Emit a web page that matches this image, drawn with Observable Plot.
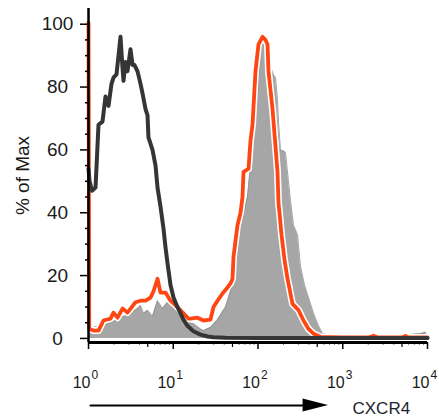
<!DOCTYPE html>
<html>
<head>
<meta charset="utf-8">
<script src="https://cdn.jsdelivr.net/npm/d3@7"></script>
<script src="https://cdn.jsdelivr.net/npm/@observablehq/plot@0.6"></script>
<style>
  html, body { margin: 0; padding: 0; background: #fff; }
</style>
</head>
<body>
<div id="chart"></div>
<script>
// Isotype control (dark line): fluorescence intensity, % of max
const isoX = [1.0, 1.03, 1.1, 1.21, 1.312, 1.463, 1.587, 1.722, 1.867, 1.972, 2.14, 2.26, 2.386, 2.52, 2.59, 2.733, 2.885, 3.13, 3.31, 3.49, 3.79, 4.11, 4.34, 4.71, 4.97, 5.10, 5.39, 5.69, 6.18, 6.52, 7.07, 7.67, 8.10, 8.55, 9.28, 10.07, 11.2, 12.18, 13.2, 14.7, 17.3, 20.97, 25.4, 29.85, 41.4, 100, 1000, 10000];
const isoY = [54, 50, 47, 48, 68, 69, 77, 74, 81, 83, 84, 90, 96, 86, 82, 88, 85, 92, 87, 87, 85, 81, 78, 73, 71, 64, 62, 60, 55, 48, 42, 35, 29, 24, 17, 13, 10, 8, 6, 4, 2.3, 1.2, 0.6, 0.4, 0.2, 0.1, 0.1, 0.1];

// CXCR4 stained (grey filled histogram)
const grayX = [1.0, 1.027, 1.146, 1.386, 1.818, 2.386, 3.13, 3.79, 4.11, 4.46, 4.97, 5.69, 6.52, 7.47, 8.55, 10.07, 12.18, 14.7, 17.3, 20.97, 22.75, 27.5, 33.3, 41.4, 47.4, 51.4, 57.3, 62.2, 69.3, 75.2, 81.6, 88.5, 98.6, 107, 116.1, 126, 136.7, 148.4, 160.9, 169.9, 174.6, 184.3, 205.5, 211.2, 229, 241.8, 262.4, 292.6, 317.3, 354, 383.9, 451.9, 517.6, 576.8, 717, 4799, 8265, 9467, 10000];
const grayY = [0, 3, 3.5, 4, 5, 6.5, 8, 9.5, 10.5, 8, 9, 7, 12, 9.5, 11.5, 10.5, 6.5, 5, 4.7, 3, 2.5, 3.5, 6, 10, 15, 18, 28, 35, 41, 45, 55, 64, 76, 91, 96, 95, 88, 84.5, 83, 76, 69, 60, 59.5, 59, 50, 44, 36, 33, 23, 17, 14, 8, 4, 1.5, 1, 1, 1.5, 2, 0];

// Second sample (orange line)
const redX = [1.0, 1.02, 1.146, 1.312, 1.503, 1.818, 1.972, 2.20, 2.52, 2.885, 3.586, 4.11, 4.71, 5.39, 5.85, 6.52, 7.07, 8.10, 9.28, 11.2, 13.2, 15.1, 15.98, 19.3, 22.75, 27.5, 29.85, 33.3, 38.1, 43.6, 47.4, 50.0, 51.4, 57.3, 62.2, 65.6, 67.5, 77.3, 81.6, 86.1, 93.4, 101.4, 113, 122.6, 129.5, 133, 148.4, 152.5, 169.9, 174.6, 179.4, 189.4, 205.5, 222.9, 255.4, 300.6, 344.4, 394.5, 451.9, 546, 1000, 2000, 2307, 2600, 5000, 5500, 6000, 10000];
const redY = [100.5, 3, 2.5, 2.5, 5.7, 6.3, 8.2, 6.6, 9.5, 8.2, 11.5, 12, 12, 13, 15, 19, 14.6, 14.6, 12, 10, 8, 6.3, 6.3, 6.6, 5.7, 6, 10, 12, 14.3, 16.2, 17.5, 19, 26, 36, 40, 45, 53, 54, 63, 68, 85, 93.6, 96, 95, 93.6, 85, 73, 69, 53, 43, 40, 33, 25, 19, 11, 9, 5.7, 3, 1.5, 0.5, 0.3, 0.3, 0.8, 0.3, 0.3, 0.8, 0.3, 0.3];

// Axes
const xExponents = [0, 1, 2, 3, 4];
const yTicks = [0, 20, 40, 60, 80, 100];
const yMinorTicks = [5, 10, 15, 25, 30, 35, 45, 50, 55, 65, 70, 75, 85, 90, 95];
const xFives = [5, 50, 500, 5000];
const xMinor = [2, 3, 4, 6, 7, 8, 9, 20, 30, 40, 60, 70, 80, 90, 200, 300, 400, 600, 700, 800, 900, 2000, 3000, 4000, 6000, 7000, 8000, 9000];
const yLabel = "% of Max";
const xLabel = "CXCR4";

// Annotation arrow (in data units, below the axis)
const arrowShaft = [{x: 1.056, y: -21.35}, {x: 345, y: -21.35}];
const arrowHead = [{x: 340, y1: -23.4, y2: -19.3}, {x: 680, y1: -21.35, y2: -21.35}];

const zip = (xs, ys) => xs.map((x, i) => ({x, y: ys[i]}));
const iso = zip(isoX, isoY);
const gray = zip(grayX, grayY);
const red = zip(redX, redY);
const decades = xExponents.map(e => 10 ** e);
const yAxisLine = [{x: 1, y1: -1.3, y2: 105}];
const xAxisLine = [{y: -1.3, x1: 1, x2: 10000}];

const chart = Plot.plot({
  width: 439,
  height: 419,
  marginLeft: 88,
  marginRight: 12,
  marginTop: 8,
  marginBottom: 77,
  x: {type: "log", domain: [1, 10000], axis: null},
  y: {domain: [-1.3, 105], axis: null},
  style: {fontFamily: "Arial, 'Liberation Sans', sans-serif", background: "white", color: "#1a1a1a"},
  marks: [
    Plot.areaY(gray, {x: "x", y: "y", fill: "#a6a6a6"}),
    Plot.line(gray, {x: "x", y: "y", stroke: "#8e8e8e", strokeWidth: 0.8}),
    Plot.line(red, {x: "x", y: "y", stroke: "white", strokeWidth: 7, strokeLinejoin: "round"}),
    Plot.line(red, {x: "x", y: "y", stroke: "#ff4512", strokeWidth: 3.8, strokeLinejoin: "round"}),
    Plot.line(iso, {x: "x", y: "y", stroke: "#353535", strokeWidth: 4, strokeLinejoin: "round"}),
    Plot.ruleX(yAxisLine, {x: "x", y1: "y1", y2: "y2", stroke: "#000", strokeWidth: 2.5}),
    Plot.ruleY(xAxisLine, {y: "y", x1: "x1", x2: "x2", stroke: "#000", strokeWidth: 3}),
    Plot.axisY(yTicks, {tickSize: 8, tickPadding: 23, textAnchor: "middle", fontSize: 19, stroke: "#000", strokeWidth: 1.5}),
    Plot.axisY(yMinorTicks, {tickSize: 3, text: null, stroke: "#000", strokeWidth: 1.5}),
    Plot.axisX(decades, {tickSize: 7, text: null, stroke: "#000", strokeWidth: 1.5}),
    Plot.axisX(xFives, {tickSize: 5, text: null, stroke: "#000", strokeWidth: 1.2}),
    Plot.axisX(xMinor, {tickSize: 2.5, text: null, stroke: "#000", strokeWidth: 1}),
    Plot.text(decades, {x: d => d, text: () => "10", frameAnchor: "bottom", textAnchor: "end", lineAnchor: "bottom", dy: 45, dx: 2, fontSize: 16}),
    Plot.text(xExponents, {x: e => 10 ** e, text: e => String(e), frameAnchor: "bottom", textAnchor: "start", lineAnchor: "bottom", dy: 36, dx: 3, fontSize: 12}),
    Plot.text([yLabel], {frameAnchor: "left", rotate: -90, dx: -66, textAnchor: "middle", lineAnchor: "middle", fontSize: 19, letterSpacing: "1.5px"}),
    Plot.text([xLabel], {frameAnchor: "bottom-right", textAnchor: "start", lineAnchor: "bottom", dx: -75, dy: 71, fontSize: 17, letterSpacing: "1px", fill: "#1c2430"}),
    Plot.line(arrowShaft, {x: "x", y: "y", stroke: "#000", strokeWidth: 2}),
    Plot.areaY(arrowHead, {x: "x", y1: "y1", y2: "y2", fill: "#000"})
  ]
});

document.getElementById("chart").appendChild(chart);
</script>
</body>
</html>
